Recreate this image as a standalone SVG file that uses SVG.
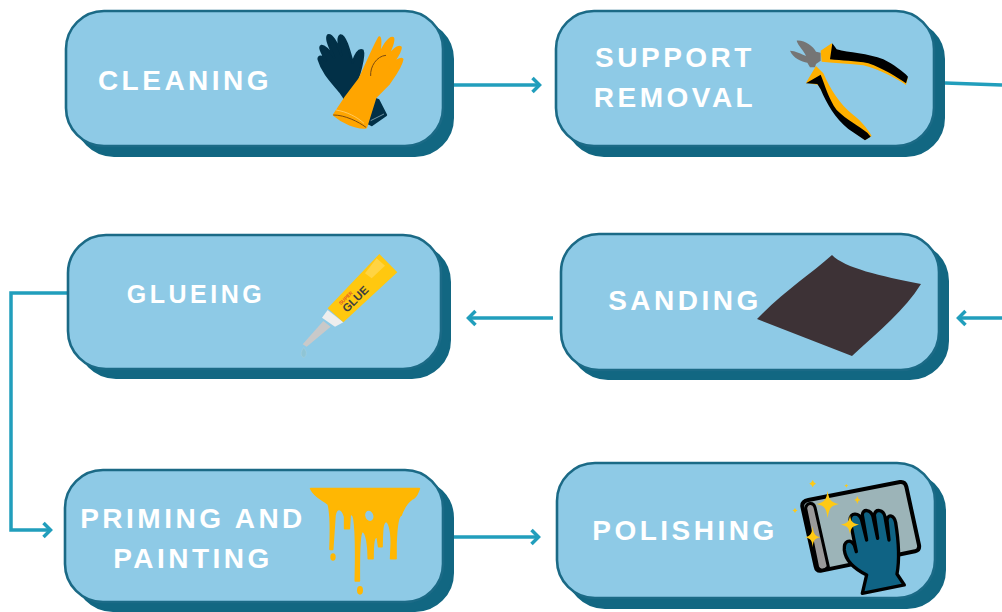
<svg xmlns="http://www.w3.org/2000/svg" width="1002" height="612" viewBox="0 0 1002 612">
<style>
.shadow{fill:#126782;stroke:#126782;stroke-width:2}
.box{fill:#8ecae6;stroke:#1b6a86;stroke-width:2.6}
.lab{font-family:"Liberation Sans",Arial,sans-serif;font-weight:700;font-size:28px;letter-spacing:3.5px;fill:#fff;text-anchor:middle}
.con{fill:none;stroke:#219ebc;stroke-width:3.5}
</style>
<defs>
<marker id="arr" markerUnits="userSpaceOnUse" markerWidth="14" markerHeight="18" refX="11" refY="9" orient="auto"><path d="M3.5 2L10.5 9L3.5 16" fill="none" stroke="#219ebc" stroke-width="3.5"/></marker>
</defs>
<rect width="1002" height="612" fill="#fff"/>
<g id="connectors">
<path class="con" d="M454 85H540" marker-end="url(#arr)"/>
<path class="con" d="M945 83L1002 85"/>
<path class="con" d="M1002 318H958" marker-end="url(#arr)"/>
<path class="con" d="M553 318H468" marker-end="url(#arr)"/>
<path class="con" d="M68 293H11V530H51" marker-end="url(#arr)"/>
<path class="con" d="M454 537H539" marker-end="url(#arr)"/>
</g>
<g id="cleaning">
<rect class="shadow" x="76" y="21" width="377" height="135" rx="38"/>
<rect class="box" x="66" y="11" width="377" height="135" rx="38"/>
<text class="lab" x="185" y="90">CLEANING</text>
<g transform="translate(300 20) scale(.3333)">
<path fill="#023047" stroke="#023047" stroke-width="7" stroke-linejoin="round" d="M84 46C96 42 112 72 124 105C118 78 110 52 122 46C136 46 148 92 158 128C165 105 176 86 188 92C194 105 178 175 162 198L160 215L235 240L258 285L215 315L175 295L120 215C100 190 68 160 56 118C54 108 66 106 78 122C66 98 56 82 64 78C76 76 92 98 102 112C92 85 76 58 84 46Z"/>
<path fill="#ffa500" stroke="#ffa500" stroke-width="7" stroke-linejoin="round" d="M238 52C245 54 240 85 236 108C248 85 266 49 279 54C285 65 266 100 258 118C272 96 294 76 302 82C305 95 278 128 270 142C282 126 303 112 307 118C303 142 282 168 266 192L226 232L198 322C170 326 128 308 102 285L135 235L178 178C195 145 222 78 238 52Z"/>
<path fill="none" stroke="#7a4a10" stroke-width="3" d="M212 168C210 140 230 108 258 106M100 285C135 285 175 305 198 322"/>
<path fill="none" stroke="#ffd98a" stroke-width="2" d="M108 270C140 275 170 290 192 310"/>
<path fill="none" stroke="#a9c4d0" stroke-width="2" d="M212 302L252 282"/>
</g>
</g>
<g id="support-removal">
<rect class="shadow" x="566" y="21" width="378" height="135" rx="38"/>
<rect class="box" x="556" y="11" width="378" height="135" rx="38"/>
<text class="lab" x="675" y="67">SUPPORT</text>
<text class="lab" x="675" y="107">REMOVAL</text>
<g transform="translate(780 30) scale(.3333)">
<path fill="#757575" d="M50 32C75 30 100 50 108 65L122 68V92L108 102L105 112H90L82 98C65 95 40 85 30 62C45 62 65 72 78 78C72 62 55 48 50 32Z"/>
<path fill="#ffb000" d="M122 62L155 40L165 60C200 75 290 75 330 105C350 118 370 135 383 145L378 165C340 140 300 120 250 106C210 100 170 100 125 95ZM78 158L108 108L130 130C150 175 180 225 220 255C240 270 262 295 275 318L255 330L200 290C170 260 140 210 115 165Z"/>
<path d="M150 88L157 40L170 58C205 68 265 70 310 88C340 103 370 125 384 140L378 160C350 142 310 115 265 100C225 92 185 92 150 88ZM78 160L122 134C135 165 145 205 170 240C200 270 240 290 262 308L272 320L255 331L205 297C165 264 140 222 122 178L112 162Z"/>
</g>
</g>
<g id="glueing">
<rect class="shadow" x="78" y="244" width="372" height="134" rx="38"/>
<rect class="box" x="68" y="235" width="373" height="134" rx="38"/>
<text class="lab" x="196" y="303" style="font-size:25px">GLUEING</text>
<g transform="translate(290 245) scale(.3333)">
<path fill="#c9c9c9" d="M38 298L100 228L122 245L50 305Z"/>
<path fill="#eee" d="M96 218L113 195L160 232L135 245Z"/>
<path fill="#ffc80f" d="M113 190L268 27L322 82L160 232Z"/>
<path fill="#ffd95a" d="M260 40L285 62L245 100L225 85Z" opacity=".7"/>
<path fill="#8fc5d6" stroke="#b6d5de" d="M41 308C50 318 52 330 42 338C32 335 30 322 41 308Z"/>
<text transform="translate(153 181) rotate(-45)" font-family="Liberation Sans,sans-serif" font-weight="700" font-size="15" fill="#e0542a">SUPER</text>
<text transform="translate(171 204) rotate(-45)" font-family="Liberation Sans,sans-serif" font-weight="700" font-size="34" fill="#3f3f3f">GLUE</text>
</g>
</g>
<g id="sanding">
<rect class="shadow" x="570" y="243" width="378" height="136" rx="38"/>
<rect class="box" x="561" y="234" width="378" height="136" rx="38"/>
<text class="lab" x="685" y="310">SANDING</text>
<path fill="#3d3236" d="M832 255C845 268 880 276 921 284C905 310 880 330 852 356L757 319C785 290 810 275 832 255Z"/>
</g>
<g id="priming-and-painting">
<rect class="shadow" x="75" y="480" width="378" height="131" rx="38"/>
<rect class="box" x="65" y="470" width="378" height="132" rx="38"/>
<text class="lab" x="193" y="528">PRIMING AND</text>
<text class="lab" x="193" y="568">PAINTING</text>
<g transform="translate(300 480) scale(.3333)" fill="#ffb703">
<path stroke="#ffb703" stroke-width="5" stroke-linejoin="round" fill-rule="evenodd" d="M32 26H358C352 40 350 53 335 58C320 68 308 93 303 106C292 110 290 140 288 190L288 236H272L274 190C274 145 265 124 258 124C247 127 247 150 246 200H236L232 172C222 168 219 185 219 236H205C205 200 200 157 188 154C180 157 177 200 178 303H166C167 240 170 170 162 117C160 102 150 98 150 110L148 146H134L134 110C125 82 110 82 105 105L98 208H90C92 160 92 100 85 73C70 60 45 53 32 26ZM196 95A12 15 -20 1 0 220 120A12 15 -20 1 0 196 95Z"/>
<ellipse cx="99" cy="231" rx="8" ry="11"/>
<ellipse cx="180" cy="331" rx="9" ry="13"/>
</g>
</g>
<g id="polishing">
<rect class="shadow" x="567" y="473" width="378" height="135" rx="38"/>
<rect class="box" x="557" y="463" width="378" height="135" rx="38"/>
<text class="lab" x="685" y="540">POLISHING</text>
<g transform="translate(785 470) scale(.3333)">
<path fill="#9cb4b8" stroke="#000" stroke-width="12" stroke-linejoin="round" d="M70 90L345 36Q360 34 364 50L402 225Q405 240 390 244L110 302Q95 305 92 290L52 110Q50 94 70 90Z"/>
<path fill="#999" stroke="#000" stroke-width="9" d="M62 115C65 98 85 95 90 112L130 290C120 302 105 305 98 292Z"/>
<path fill="#0f6384" stroke="#000" stroke-width="10" stroke-linejoin="round" d="M232 370L245 315C215 300 182 275 178 240C176 212 195 205 208 225L214 245L195 150C195 128 222 125 230 150L245 210L232 135C232 115 258 118 264 140L278 205L268 135C272 115 295 118 300 140L312 210L306 150C310 130 328 136 332 158C342 220 342 280 336 312L358 345Z"/>
<g fill="#ffc914">
<path d="M128 62C132 90 138 97 162 102C138 107 132 114 128 144C124 114 118 107 94 102C118 97 124 90 128 62Z"/>
<path d="M195 136C198 155 202 160 222 164C202 168 198 173 195 192C192 173 188 168 168 164C188 160 192 155 195 136Z"/>
<path d="M83 168C85 190 88 197 106 202C88 206 85 212 83 232C81 212 78 206 60 202C78 197 81 190 83 168Z"/>
<path d="M83 30L87 37L93 41L87 45L83 52L79 45L73 41L79 37Z"/>
<path d="M217 78L220 86L226 90L220 93L217 102L214 93L208 90L214 86Z"/>
<path d="M30 114L33 119L38 121L33 124L30 129L27 124L22 121L27 119Z"/>
<path d="M184 42L186 45L190 47L186 49L184 53L182 49L178 47L182 45Z"/>
</g>
</g>
</g>
</svg>
